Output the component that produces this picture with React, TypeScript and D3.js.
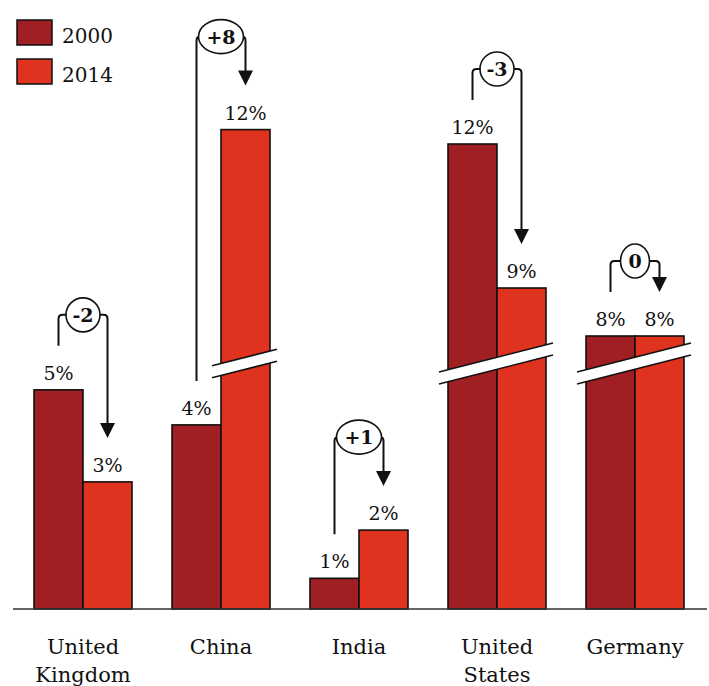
import React from 'react';
import * as d3 from 'd3';

const categories = ['United Kingdom', 'China', 'India', 'United States', 'Germany'];
const categoryLines = [['United', 'Kingdom'], ['China'], ['India'], ['United', 'States'], ['Germany']];
const years = ['2000', '2014'];
const values2000 = [5.0, 4.2, 0.7, 12.0, 8.0];
const values2014 = [2.9, 12.3, 1.8, 9.0, 8.0];
// broken value axis: lower segment up to 6%, compressed gap, upper segment
const yDomain = [0, 6, 8, 13];
const breakThreshold = 6;
const breakValue = 5.6;

const W = 709;
const H = 686;
const baseY = 609;
const colors = ['#A01F22', '#E0331F'];
const FONT = '"DejaVu Serif", Georgia, serif';

const charW = (ch: string) => (ch === '+' ? 16 : ch === '-' ? 5 : 11);

export default function App() {
  const x0 = d3.scaleBand<string>().domain(categories).range([14, 704]).paddingInner(0.29).paddingOuter(0.145);
  const x1 = d3.scaleBand<string>().domain(years).range([0, x0.bandwidth()]);
  const y = d3.scaleLinear().domain(yDomain).range([baseY, 346, 336, 96]);
  const series = [values2000, values2014];
  const fmt = (v: number) => `${Math.round(v)}%`;

  const groups = categories.map((c, i) => {
    const gx = x0(c)!;
    const bars = years.map((yr, j) => {
      const v = series[j][i];
      const bx = gx + x1(yr)!;
      return { yr, v, x: bx, w: x1.bandwidth(), top: y(v), cx: bx + x1.bandwidth() / 2, color: colors[j] };
    });
    return { c, i, gx, cx: gx + x0.bandwidth() / 2, bars };
  });

  return (
    <div style={{ position: 'absolute', left: 0, top: 0 }}>
      <svg width={W} height={H} style={{ display: 'block', background: '#fff' }} fontFamily={FONT}>
        {/* legend */}
        {years.map((yr, j) => (
          <g key={yr}>
            <rect x={17} y={20 + j * 39} width={35} height={25} fill={colors[j]} stroke="#111" strokeWidth={1.5} />
            <text x={62} y={43 + j * 39} fontSize={20} fill="#111">{yr}</text>
          </g>
        ))}

        {groups.map((g) => {
          const [b0, b1] = g.bars;
          const r0 = Math.round(b0.v);
          const r1 = Math.round(b1.v);
          const delta = r1 - r0;
          const label = delta > 0 ? `+${delta}` : `${delta}`;
          const lift = delta > 0 ? 93 : 75;
          const by = Math.min(b0.top, b1.top) - lift;
          const rx = label.split('').reduce((s, ch) => s + charW(ch), 0) / 2 + 9;
          const ry = 17;
          const leftStart = b0.top - 44;
          const tip = b1.top - 44;
          const rc = 4;
          const ah = 15;
          const aw = 7.5;
          const leftPath = `M${b0.cx},${leftStart} L${b0.cx},${by + rc} Q${b0.cx},${by} ${b0.cx + rc},${by} L${g.cx - rx},${by}`;
          const rightPath = `M${g.cx + rx},${by} L${b1.cx - rc},${by} Q${b1.cx},${by} ${b1.cx},${by + rc} L${b1.cx},${tip - ah + 1}`;
          const broken = g.bars.filter((b) => b.v > breakThreshold);
          let band: React.ReactNode = null;
          if (broken.length) {
            const xa = broken[0].x - 9;
            const xb = broken[broken.length - 1].x + broken[broken.length - 1].w + 7;
            const mid = (xa + xb) / 2;
            const yc = y(breakValue) - 6;
            const slope = -0.255;
            const yu = (xx: number) => yc + slope * (xx - mid);
            const th = 12;
            band = (
              <g>
                <polygon
                  points={`${xa},${yu(xa)} ${xb},${yu(xb)} ${xb},${yu(xb) + th} ${xa},${yu(xa) + th}`}
                  fill="#fff"
                />
                <line x1={xa} y1={yu(xa)} x2={xb} y2={yu(xb)} stroke="#111" strokeWidth={1.6} />
                <line x1={xa} y1={yu(xa) + th} x2={xb} y2={yu(xb) + th} stroke="#111" strokeWidth={1.6} />
              </g>
            );
          }
          return (
            <g key={g.c}>
              {g.bars.map((b) => (
                <rect key={b.yr} x={b.x} y={b.top} width={b.w} height={baseY - b.top} fill={b.color} stroke="#111" strokeWidth={1.6} />
              ))}
              {band}
              {g.bars.map((b) => (
                <text key={b.yr} x={b.cx} y={b.top - 10} textAnchor="middle" fontSize={19} fill="#111">{fmt(b.v)}</text>
              ))}
              <path d={leftPath} fill="none" stroke="#111" strokeWidth={2} />
              <path d={rightPath} fill="none" stroke="#111" strokeWidth={2} />
              <polygon points={`${b1.cx - aw},${tip - ah} ${b1.cx + aw},${tip - ah} ${b1.cx},${tip}`} fill="#111" />
              <ellipse cx={g.cx} cy={by} rx={rx} ry={ry} fill="#fff" stroke="#111" strokeWidth={1.6} />
              <text x={g.cx} y={by + 7} textAnchor="middle" fontSize={19} fontWeight="bold" fill="#111">{label}</text>
              {categoryLines[g.i].map((ln, k) => (
                <text key={k} x={g.cx} y={654 + k * 28} textAnchor="middle" fontSize={21} fill="#111">{ln}</text>
              ))}
            </g>
          );
        })}

        <line x1={13} x2={707} y1={baseY} y2={baseY} stroke="#333" strokeWidth={1.5} />
      </svg>
    </div>
  );
}
